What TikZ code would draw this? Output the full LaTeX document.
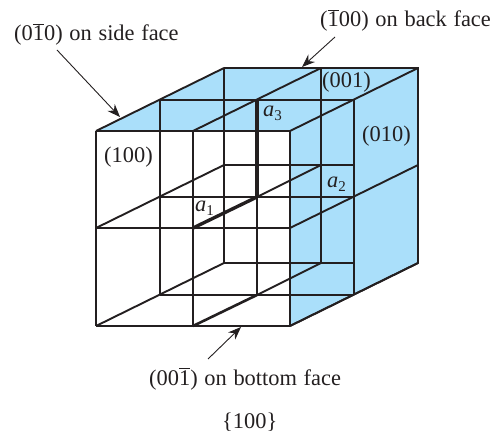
\documentclass[tikz,border=0pt]{standalone}
\usepackage{fontspec}
\setmainfont[WordSpace=1.2]{Liberation Serif}
\newcommand{\obar}[1]{\leavevmode\vbox{\hrule height .8pt \kern 1.4pt\hbox{#1}}}
\newcommand{\avec}[1]{{\itshape a}\raisebox{-3.5pt}{\fontsize{15}{15}\selectfont #1}}
\definecolor{faceblue}{RGB}{170,223,250}
\definecolor{inkc}{RGB}{35,31,32}
\usetikzlibrary{arrows.meta}
\tikzset{
  grid/.style={draw=inkc,line width=1.9pt},
  heavy/.style={draw=inkc,line width=2.6pt},
  axisline/.style={draw=inkc,line width=3.4pt},
  lab/.style={text=inkc,inner sep=0pt,anchor=base west,font=\fontsize{22.4}{26}\selectfont},
  pointer/.style={draw=inkc,line width=0.9pt,-{Stealth[length=13pt,width=10pt]}},
}
\begin{document}
\begin{tikzpicture}[x=1pt,y=-1pt]
\useasboundingbox (0,0) rectangle (503,435);
% corner coordinates
\coordinate (f1) at (96,131); \coordinate (f2) at (193,131); \coordinate (f3) at (290,131);
\coordinate (f4) at (96,228); \coordinate (f5) at (193,228); \coordinate (f6) at (290,228);
\coordinate (f7) at (96,326); \coordinate (f8) at (193,326); \coordinate (f9) at (290,326);
\coordinate (m1) at (160,100); \coordinate (m2) at (257,100); \coordinate (m3) at (354,100);
\coordinate (m4) at (160,197); \coordinate (m5) at (257,197); \coordinate (m6) at (354,197);
\coordinate (m7) at (160,295); \coordinate (m8) at (257,295); \coordinate (m9) at (354,295);
\coordinate (b1) at (224,68); \coordinate (b2) at (321,68); \coordinate (b3) at (418,68);
\coordinate (b4) at (224,165); \coordinate (b5) at (321,165); \coordinate (b6) at (418,165);
\coordinate (b7) at (224,263); \coordinate (b8) at (321,263); \coordinate (b9) at (418,263);
\coordinate (bx) at (354,165); \coordinate (by) at (354,263);
% blue faces
\fill[faceblue] (f1) -- (b1) -- (b3) -- (b9) -- (f9) -- (f3) -- cycle;
% back
\draw[grid] (b1) -- (b3) -- (b9) -- (f9);
\draw[grid] (b1) -- (b7) -- (by);
\draw[grid] (b2) -- (b8);
\draw[grid] (b4) -- (bx);
% middle
\draw[grid] (m1) -- (m3) -- (m9);
\draw[grid] (m1) -- (m7);
\draw[heavy] (m7) -- (m9);
\draw[grid] (m5) -- (m8);
\draw[heavy] (m4) -- (m6);
% depth
\draw[grid] (f1) -- (b1);
\draw[grid] (f2) -- (b2);
\draw[grid] (f3) -- (b3);
\draw[grid] (f4) -- (b4);
\draw[grid] (m5) -- (b5);
\draw[grid] (f6) -- (b6);
\draw[grid] (f7) -- (b7);
\draw[heavy] (f8) -- (m8);
\draw[grid] (m8) -- (b8);
\draw[grid] (f9) -- (b9);
% front
\draw[grid] (f1) -- (f3) -- (f9);
\draw[grid] (f1) -- (f7);
\draw[heavy] (f7) -- (f9);
\draw[grid] (f2) -- (f8);
\draw[heavy] (f4) -- (f6);
% axes
\draw[axisline] (m2) -- (m5);
\draw[axisline] (f5) -- (m5);
% labels
\node[lab] (l100) at (104,163) {(100)};
\node[lab] (l010) at (362,142) {(010)};
\node[lab] (l001) at (322,88) {(001)};
\node[lab] (la1) at (195,212) {\avec{1}};
\node[lab] (la2) at (327,188) {\avec{2}};
\node[lab] (la3) at (263,117) {\avec{3}};
\node[lab] (side) at (14,41) {(0\obar{1}0) on side face};
\node[lab] (back) at (320,27) {(\obar{1}00) on back face};
\node[lab] (bottom) at (149,385) {(00\obar{1}) on bottom face};
\node[lab] (fam) at (222,428) {\{100\}};
% pointers
\coordinate (ps) at (120,117); \coordinate (pb) at (302,67); \coordinate (pd) at (241,327);
\draw[pointer] (57,50) -- (ps);
\draw[pointer] (335,37) -- (pb);
\draw[pointer] (208,359) -- (pd);
\end{tikzpicture}
\end{document}
